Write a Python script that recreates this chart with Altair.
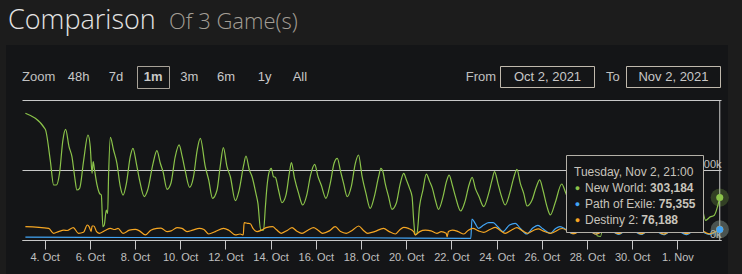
import altair as alt
import pandas as pd

# ---------------- data ----------------
games = ["New World", "Path of Exile", "Destiny 2"]
colors = ["#8bc34a", "#42a5f5", "#f5a623"]

# day offsets from 2021-10-03 00:00 UTC, values in thousands of players
nw_day = [0.15, 1.03, 1.25, 1.40, 1.52, 1.66, 1.81, 1.93, 2.08, 2.21, 2.33, 2.43, 2.55, 2.73, 2.92,
          3.02, 3.10, 3.15, 3.21, 3.32, 3.43, 3.51, 3.58, 3.64, 3.73, 3.79, 3.83, 3.91, 4.05, 4.20,
          4.35, 4.47, 4.62, 4.79, 4.91, 5.06, 5.20, 5.41, 5.56, 5.80, 5.97, 6.12, 6.24, 6.42, 6.59,
          6.78, 6.95, 7.09, 7.23, 7.42, 7.59, 7.75, 7.89, 8.11, 8.26, 8.43, 8.63, 8.77, 8.91, 9.07,
          9.22, 9.44, 9.61, 9.81, 9.91, 10.06, 10.18, 10.35, 10.44, 10.56, 10.69, 10.77, 10.84, 10.94,
          11.03, 11.13, 11.21, 11.35, 11.50, 11.68, 11.84, 11.92, 12.06, 12.24, 12.42, 12.60, 12.77,
          12.95, 13.10, 13.24, 13.45, 13.64, 13.81, 13.95, 14.10, 14.23, 14.39, 14.57, 14.75, 14.89,
          15.05, 15.22, 15.41, 15.59, 15.78, 15.88, 15.97, 16.07, 16.22, 16.37, 16.56, 16.74, 16.89,
          17.01, 17.15, 17.26, 17.33, 17.40, 17.48, 17.59, 17.74, 17.89, 18.04, 18.16, 18.29, 18.43,
          18.63, 18.78, 18.90, 19.04, 19.18, 19.41, 19.60, 19.78, 19.92, 20.06, 20.22, 20.43, 20.65,
          20.80, 20.91, 21.06, 21.20, 21.38, 21.58, 21.75, 21.90, 22.05, 22.20, 22.35, 22.57, 22.76,
          22.91, 23.05, 23.23, 23.38, 23.60, 23.88, 24.05, 24.20, 24.40, 24.60, 24.75, 24.90, 25.05,
          25.20, 25.35, 25.45, 25.60, 25.75, 25.90, 26.05, 26.20, 26.40, 26.60, 26.75, 26.90, 27.05,
          27.20, 27.40, 27.60, 27.75, 27.90, 28.05, 28.20, 28.40, 28.60, 28.75, 28.90, 29.05, 29.20,
          29.40, 29.60, 29.75, 29.90, 30.05, 30.25, 30.45, 30.62, 30.875]
nw_k = [905, 791, 571, 393, 393, 476, 714, 790, 667, 595, 452, 357, 369, 571, 750,
        667, 476, 560, 500, 393, 333, 321, 95, 107, 214, 190, 452, 733, 643, 548,
        381, 321, 405, 595, 655, 548, 429, 310, 357, 548, 638, 548, 488, 362, 405,
        595, 679, 595, 488, 376, 452, 640, 726, 524, 429, 298, 357, 524, 660, 524,
        452, 281, 357, 536, 600, 500, 452, 333, 262, 71, 71, 238, 381, 488,
        512, 452, 448, 357, 267, 321, 488, 552, 440, 333, 250, 321, 464,
        540, 452, 393, 298, 405, 548, 583, 488, 405, 310, 381, 548, 607,
        452, 333, 226, 310, 452, 512, 488, 405, 310, 219, 262, 405, 476,
        429, 369, 310, 143, 36, 48, 238, 357, 471, 417, 369, 286, 219,
        310, 417, 464, 393, 310, 207, 274, 393, 448, 369, 310, 238, 333,
        429, 488, 405, 321, 250, 333, 440, 505, 405, 333, 243, 286, 381,
        429, 357, 238, 179, 270, 400, 340, 270, 190, 250, 340, 390, 330,
        260, 150, 30, 25, 180, 370, 320, 250, 175, 240, 330, 360, 310,
        245, 170, 235, 315, 350, 300, 240, 165, 230, 300, 340, 290, 230,
        160, 225, 290, 330, 270, 140, 165, 175, 303.184]

poe_day = [0.15, 5.0, 10.0, 15.0, 19.80, 19.86, 19.91, 20.05, 20.20, 20.43, 20.65, 20.85, 21.05,
           21.28, 21.57, 21.83, 22.05, 22.33, 22.60, 22.83, 23.05, 23.38, 23.60, 23.80, 24.40,
           24.85, 25.40, 25.85, 26.40, 26.85, 27.40, 27.85, 28.40, 28.85, 29.40, 29.85, 30.40, 30.875]
poe_k = [20, 18, 17, 16, 12, 12, 150, 119, 83, 107, 124, 124, 95,
         60, 107, 119, 83, 43, 85, 105, 80, 48, 80, 95, 45,
         92, 42, 88, 40, 85, 40, 82, 38, 80, 38, 78, 40, 75.355]

d2_day = [0.15, 1.18, 1.40, 1.62, 1.85, 2.00, 2.27, 2.50, 2.72, 2.89, 2.98, 3.06, 3.10, 3.18, 3.30,
          3.43, 3.70, 3.91, 4.10, 4.25, 4.47, 4.75, 5.01, 5.20, 5.46, 5.70, 5.97, 6.15, 6.42, 6.60,
          6.86, 7.08, 7.30, 7.55, 7.85, 8.05, 8.26, 8.55, 8.92, 9.15, 9.44, 9.65, 9.79, 9.83, 9.98,
          10.10, 10.22, 10.40, 10.60, 10.80, 11.09, 11.25, 11.47, 11.75, 11.95, 12.15, 12.39, 12.65,
          12.90, 13.10, 13.30, 13.60, 13.86, 14.10, 14.35, 14.62, 14.90, 15.10, 15.30, 15.60, 16.00,
          16.25, 16.52, 16.70, 16.89, 17.10, 17.33, 17.40, 17.60, 17.85, 18.10, 18.36, 18.55, 18.77,
          18.81, 18.87, 19.05, 19.30, 19.55, 19.75, 19.95, 20.20, 20.43, 20.70, 20.95, 21.15, 21.38,
          21.65, 21.90, 22.15, 22.38, 22.65, 22.85, 23.05, 23.38, 23.90, 24.40, 24.90, 25.40, 25.90,
          26.40, 26.90, 27.40, 27.90, 28.40, 28.90, 29.40, 29.90, 30.40, 30.875]
d2_k = [95, 83, 48, 60, 70, 68, 88, 48, 55, 107, 92, 60, 100, 100, 60,
        48, 70, 83, 75, 83, 48, 70, 76, 65, 36, 70, 83, 85, 60, 65,
        88, 83, 60, 70, 83, 75, 43, 60, 83, 70, 36, 43, 36, 124, 119,
        116, 83, 60, 70, 88, 95, 75, 48, 70, 88, 65, 48, 70,
        88, 70, 48, 65, 95, 60, 48, 70, 100, 70, 48, 60, 83,
        60, 43, 70, 90, 83, 60, 36, 60, 70, 65, 48, 60, 48,
        24, 60, 71, 60, 43, 70, 83, 65, 55, 75, 90, 70, 48,
        70, 88, 65, 48, 70, 80, 65, 48, 82, 45, 85, 42, 80,
        45, 83, 44, 80, 42, 82, 45, 80, 44, 76.188]

x_tick_days = [1, 3, 5, 7, 9, 11, 13, 15, 17, 19, 21, 23, 25, 27, 29]  # 4. Oct ... 1. Nov
y_ticks = [0, 500000, 1000000]

title_main = "Comparison"
title_sub = "Of 3 Game(s)"
zoom_label = "Zoom"
zoom_buttons = ["48h", "7d", "1m", "3m", "6m", "1y", "All"]
date_from = "Oct 2, 2021"
date_to = "Nov 2, 2021"
tooltip_header = "Tuesday, Nov 2, 21:00"

# ---------------- build tables ----------------
BASE = pd.Timestamp("2021-10-03", tz="UTC")


def ms(d):
    return int((BASE + pd.Timedelta(days=d)).value // 10**6)


rows = []
for g, days, ks in [("New World", nw_day, nw_k), ("Path of Exile", poe_day, poe_k), ("Destiny 2", d2_day, d2_k)]:
    for d, k in zip(days, ks):
        rows.append({"game": g, "t": ms(d), "v": round(k * 1000)})
df = pd.DataFrame(rows)
last = df.sort_values("t").groupby("game").tail(1).reset_index(drop=True)

W, H = 699, 140
xscale = alt.Scale(type="utc", domain=[ms(0), ms(30.93)])
yscale = alt.Scale(domain=[0, 1000000], nice=False, zero=True)

AX_FONT = "Liberation Sans"
PANEL = "#141517"
OUTER = "#1c1c1c"
TXT = "#c8c4bc"

x_axis = alt.Axis(values=[ms(d) for d in x_tick_days],
                  labelExpr="utcFormat(datum.value, '%-d. %b')",
                  grid=False, title=None, domainColor="#c8c8c8", tickColor="#c8c8c8",
                  tickSize=9, labelColor="#c0c0c0", labelFontSize=11, labelPadding=2,
                  labelFont=AX_FONT, labelFlush=False, labelOverlap=False)
y_axis = alt.Axis(values=y_ticks, orient="right", grid=True, gridColor="#c8c8c8", gridWidth=1,
                  domain=False, ticks=False, title=None, labelAlign="right", labelPadding=0,
                  labelBaseline="alphabetic", labelOffset=-3, labelColor="#c0c0c0",
                  labelFontSize=11, labelFont=AX_FONT,
                  labelExpr="datum.value == 0 ? '0k' : datum.value == 500000 ? '500k' : ''")

one = alt.Data(values=[{"k": 0}])


def txt(s, x, y, size=13, color="#c8c8c8", weight="normal", align="left",
        font=AX_FONT, baseline="middle"):
    return alt.Chart(one).mark_text(text=s, fontSize=size, color=color, fontWeight=weight,
                                    align=align, baseline=baseline, font=font).encode(
        x=alt.value(x), y=alt.value(y))


def box(x1, x2, y1, y2, stroke=None, fill=None):
    kw = {}
    if stroke:
        kw.update(stroke=stroke, strokeWidth=1)
    if fill:
        kw["fill"] = fill
    else:
        kw["fillOpacity"] = 0
    return alt.Chart(one).mark_rect(**kw).encode(
        x=alt.value(x1), x2=alt.value(x2), y=alt.value(y1), y2=alt.value(y2))


# outer (page) strips around the dark chart panel, all outside the plot area
outer = [box(-22, 720, -100, -55, fill=OUTER),
         box(-22, -16, -55, 174, fill=OUTER),
         box(706, 720, -55, 174, fill=OUTER)]

# lines
base = alt.Chart(df)
lines = []
for g, c in zip(games, colors):
    lines.append(base.transform_filter(alt.datum.game == g).mark_line(
        color=c, strokeWidth=1.2, clip=True, interpolate="monotone").encode(
        x=alt.X("t:T", scale=xscale, axis=x_axis),
        y=alt.Y("v:Q", scale=yscale, axis=y_axis)))

# crosshair at hovered (last) point
cross = alt.Chart(last).transform_filter(alt.datum.game == games[0]).mark_rule(
    color="#c8c8c8", strokeWidth=1).encode(
    x=alt.X("t:T", scale=xscale), y=alt.value(0), y2=alt.value(H))

# tooltip box & texts
tip = [box(544.5, 681.5, 55.5, 132.5, stroke="#b4b0a8", fill=PANEL),
       txt(tooltip_header, 552, 72, size=12, color=TXT)]
vals = {g: f"{int(v):,}" for g, v in zip(last["game"], last["v"])}
val_end = {"New World": 671.5, "Path of Exile": 673.5, "Destiny 2": 656}
for i, (g, c) in enumerate(zip(games, colors)):
    yy = 88 + 16 * i
    tip.append(txt("\u25cf", 555.5, yy, size=9, color=c, align="center"))
    tip.append(txt(f"{g}:", 563, yy, size=12, color=TXT))
    tip.append(txt(vals[g], val_end[g], yy, size=12, color=TXT, weight="bold", align="right"))

# hover markers at last point
cscale = alt.Scale(domain=games, range=colors)
halo = alt.Chart(last).mark_circle(size=330, opacity=0.25, clip=False).encode(
    x=alt.X("t:T", scale=xscale), y=alt.Y("v:Q", scale=yscale),
    color=alt.Color("game:N", scale=cscale, legend=None))
dots = alt.Chart(last).mark_circle(size=50, opacity=1, clip=False).encode(
    x=alt.X("t:T", scale=xscale), y=alt.Y("v:Q", scale=yscale),
    color=alt.Color("game:N", scale=cscale, legend=None))

# header / range selector
TITLE_FONT = "Open Sans"
deco = [txt(title_main, -14, -71, size=27, color="#e4e4e4", font=TITLE_FONT, baseline="alphabetic",
            weight=300),
        txt(title_sub, 147, -71, size=22, color="#a39e95", font=TITLE_FONT, baseline="alphabetic",
            weight=300),
        txt(zoom_label, 0, -23, size=13, color="#c0c0c0")]
btn_x = [45.7, 86.7, 121.7, 158.3, 195, 235.7, 270.7]
for b, bx in zip(zoom_buttons, btn_x):
    deco.append(txt(b, bx, -23, size=13, color="#c8c8c8", weight="bold" if b == "1m" else "normal"))
deco.append(box(115.5, 147.5, -33.5, -11.5, stroke="#a8a298"))
deco += [txt("From", 443.7, -23, size=13, color="#c0c0c0"),
         box(478.5, 572.5, -33.5, -12.5, stroke="#c0b9ad"),
         txt(date_from, 525.5, -23, size=13, color="#c8c8c8", align="center"),
         txt("To", 584, -23, size=13, color="#c0c0c0"),
         box(604.5, 698.5, -33.5, -12.5, stroke="#c0b9ad"),
         txt(date_to, 651.5, -23, size=13, color="#c8c8c8", align="center")]

chart = alt.layer(*outer, *deco, *lines, cross, *tip, halo, dots).resolve_scale(
    color="shared").properties(
    width=W, height=H,
    padding={"left": 22, "top": 100, "right": 21, "bottom": 34},
    autosize=alt.AutoSizeParams(type="none"),
    background=PANEL,
).configure_view(stroke=None)

chart.save("out.html", embed_options={"renderer": "svg", "actions": False})
